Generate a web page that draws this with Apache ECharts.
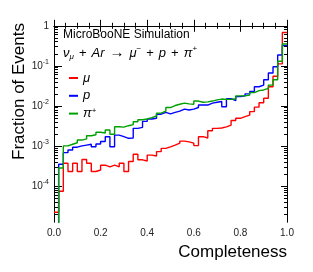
<!DOCTYPE html>
<html><head><meta charset="utf-8">
<script src="https://cdn.jsdelivr.net/npm/echarts@6/dist/echarts.min.js"></script>
<style>html,body{margin:0;padding:0;background:#fff}#c{width:313px;height:272px}</style>
</head><body><div id="c"></div>
<script>
// Bin edges (bin width 0.02); the last entry is the upper edge of the last bin
const binEdges = [0.00,0.02,0.04,0.06,0.08,0.10,0.12,0.14,0.16,0.18,0.20,0.22,0.24,0.26,0.28,0.30,0.32,0.34,0.36,0.38,0.40,0.42,0.44,0.46,0.48,0.50,0.52,0.54,0.56,0.58,0.60,0.62,0.64,0.66,0.68,0.70,0.72,0.74,0.76,0.78,0.80,0.82,0.84,0.86,0.88,0.90,0.92,0.94,0.96,0.98,1.00];
const seriesNames = ['μ', 'p', 'π+'];
// Fraction of events per bin
const muValues = [2.2e-5,7.4e-5,3.7e-4,2.3e-4,3.7e-4,2.3e-4,4.6e-4,3.7e-4,2.3e-4,2.5e-4,
  3.3e-4,3.0e-4,3.3e-4,3.0e-4,3.7e-4,2.3e-4,4.1e-4,6.2e-4,4.5e-4,4.2e-4,
  5.9e-4,5.6e-4,7.2e-4,8.7e-4,9.5e-4,1.05e-3,1.17e-3,1.32e-3,1.26e-3,1.17e-3,
  1.02e-3,1.7e-3,1.58e-3,2.4e-3,2.75e-3,2.8e-3,3.0e-3,3.3e-3,4.3e-3,4.9e-3,
  5.4e-3,5.9e-3,7.2e-3,9.3e-3,1.2e-2,1.55e-2,3.0e-2,5.5e-2,0.112,0.68];
const pValues = [0,3.5e-4,6.8e-4,7.9e-4,9.3e-4,1.0e-3,1.05e-3,1.1e-3,9.5e-4,1.12e-3,
  1.29e-3,1.7e-3,9.5e-4,1.86e-3,1.7e-3,1.55e-3,1.58e-3,2.75e-3,2.9e-3,4.1e-3,
  4.7e-3,4.9e-3,6.2e-3,6.9e-3,6.3e-3,6.9e-3,7.4e-3,8.3e-3,7.9e-3,8.3e-3,
  9.1e-3,1.05e-2,1.05e-2,1.17e-2,1.23e-2,1.29e-2,9.5e-3,1.51e-2,1.35e-2,1.7e-2,
  1.78e-2,2.0e-2,2.3e-2,3.0e-2,3.3e-2,4.5e-2,6.6e-2,9.5e-2,0.186,0.32];
const piValues = [0,2.8e-4,1.0e-3,1.1e-3,1.2e-3,1.4e-3,1.5e-3,1.8e-3,1.9e-3,2.2e-3,
  2.1e-3,2.5e-3,1.95e-3,3.0e-3,2.95e-3,3.2e-3,3.4e-3,4.0e-3,4.5e-3,4.7e-3,
  5.1e-3,5.6e-3,6.6e-3,7.4e-3,9.1e-3,1.02e-2,1.1e-2,1.17e-2,1.12e-2,1.1e-2,
  1.32e-2,1.23e-2,1.26e-2,1.32e-2,1.41e-2,1.48e-2,1.45e-2,1.45e-2,1.51e-2,1.78e-2,
  1.78e-2,1.86e-2,2.14e-2,2.4e-2,2.5e-2,2.75e-2,3.3e-2,4.5e-2,0.13,0.35];
const yDecades = [-4, -3, -2, -1, 0];
const colors = ['#ff0000', '#0000ff', '#00a000'];

const Y_MIN = -4.9, Y_MAX = 0.07;
const toLog = v => v > 0 ? Math.log10(v) : -7;
function histPoints(vals) {
  const pts = vals.map((v, i) => [binEdges[i], toLog(v)]);
  pts.push([binEdges[binEdges.length - 1], toLog(vals[vals.length - 1])]);
  return pts;
}
const yMinor = [];
for (let n = -5; n <= 0; n++) for (let k = 2; k <= 9; k++) {
  const v = n + Math.log10(k);
  if (v > Y_MIN && v < Y_MAX) yMinor.push(v);
}
const FONT = '"Liberation Sans", Arial, Helvetica, sans-serif';
const lineAx = {show: true, lineStyle: {color: '#000', width: 1}};
function xAx(pos, labels) {
  return {type: 'value', min: 0, max: 1, interval: 0.2, position: pos, gridIndex: 0,
    axisLine: lineAx, splitLine: {show: false},
    axisTick: {show: true, inside: true, length: 6, lineStyle: {color: '#000'}},
    minorTick: {show: true, splitNumber: 4, length: 3, lineStyle: {color: '#000'}},
    axisLabel: labels ? {show: true, margin: 6, fontSize: 10, color: '#222', fontFamily: FONT,
      formatter: v => v.toFixed(1)} : {show: false}};
}
function yAx(pos, major, len, labels) {
  return {type: 'value', min: Y_MIN, max: Y_MAX, position: pos, gridIndex: 0,
    axisLine: lineAx, splitLine: {show: false}, minorTick: {show: false},
    axisTick: {show: true, inside: true, length: len, customValues: major ? yDecades : yMinor,
      lineStyle: {color: '#000'}},
    axisLabel: labels ? {show: true, margin: 5, customValues: yDecades, fontFamily: FONT, color: '#222',
      formatter: v => { const e = Math.round(v); return e === 0 ? '{b|1}' : '{b|10}{s|' + e + '}'; },
      rich: {b: {fontSize: 10, lineHeight: 15, fontFamily: FONT, color: '#222'},
             s: {fontSize: 7, lineHeight: 8, verticalAlign: 'top', fontFamily: FONT, color: '#222'}}} : {show: false}};
}
const chart = echarts.init(document.getElementById('c'), null, {renderer: 'canvas'});
chart.setOption({
  animation: false,
  backgroundColor: '#fff',
  grid: {left: 54, right: 26, top: 23, bottom: 50, containLabel: false},
  xAxis: [xAx('bottom', true), xAx('top', false)],
  yAxis: [yAx('left', true, 8, true), yAx('left', false, 4, false), yAx('right', true, 6, false), yAx('right', false, 3, false)],
  legend: {orient: 'vertical', left: 64, top: 66, itemWidth: 9, itemHeight: 2, itemGap: 3.8, icon: 'rect',
    data: seriesNames,
    formatter: n => n === 'π+' ? '{i|π}{s|+}' : '{i|' + n + '}',
    textStyle: {fontSize: 13, lineHeight: 14, fontFamily: FONT, color: '#000',
      rich: {i: {fontSize: 13, fontStyle: 'italic', lineHeight: 14, fontFamily: FONT, color: '#000'},
             s: {fontSize: 8, lineHeight: 8, verticalAlign: 'top', fontFamily: FONT, color: '#000'}}}},
  series: [muValues, pValues, piValues].map((vals, i) => ({
    name: seriesNames[i], type: 'line', step: 'end', xAxisIndex: 0, yAxisIndex: 0,
    data: histPoints(vals), symbol: 'none', clip: true, z: 3 + i,
    lineStyle: {color: colors[i], width: 1.4}, itemStyle: {color: colors[i]}
  })),
  graphic: [
    {type: 'text', x: 63, y: 35, style: {text: 'MicroBooNE Simulation', fontSize: 12, fontFamily: FONT,
      fill: '#000', align: 'left', verticalAlign: 'middle'}},
    {type: 'text', x: 63, y: 53, style: {
      text: '{i|ν}{sub|μ}{n|+}{i|Ar}{a|→}{i|μ}{sup|−}{n|+}{i|p}{n|+}{i|π}{sup|+}',
      align: 'left', verticalAlign: 'middle',
      rich: {i: {fontSize: 13, fontStyle: 'italic', fontFamily: FONT, fill: '#000', lineHeight: 16},
             n: {fontSize: 13, fontFamily: FONT, fill: '#000', lineHeight: 16, padding: [0, 5, 0, 5]},
             a: {fontSize: 15, fontFamily: FONT, fill: '#000', lineHeight: 16, padding: [0, 5, 0, 5]},
             sub: {fontSize: 8, fontStyle: 'italic', fontFamily: FONT, fill: '#000', lineHeight: 9, verticalAlign: 'bottom'},
             sup: {fontSize: 8, fontFamily: FONT, fill: '#000', lineHeight: 9, verticalAlign: 'top'}}}},
    {type: 'text', x: 19, y: 23, rotation: Math.PI / 2, style: {text: 'Fraction of Events', fontSize: 17,
      fontFamily: FONT, fill: '#000', align: 'right', verticalAlign: 'middle'}},
    {type: 'text', x: 287, y: 252, style: {text: 'Completeness', fontSize: 17, fontFamily: FONT,
      fill: '#000', align: 'right', verticalAlign: 'middle'}}
  ]
});
</script></body></html>
